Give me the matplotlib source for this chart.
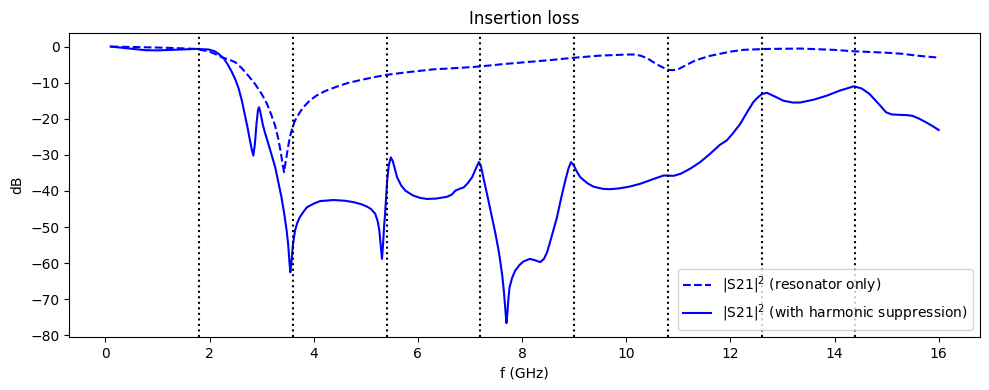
import numpy as np
import matplotlib
matplotlib.use("Agg")
import matplotlib.pyplot as plt

# harmonics of the 1.8 GHz fundamental
harmoniques = [1.8, 3.6, 5.4, 7.2, 9.0, 10.8, 12.6, 14.4]

# |S21|^2 resonator only (GHz, dB)
f_reso = [0.1, 0.5, 1.09, 1.5, 1.72, 1.98, 2.1, 2.24, 2.37, 2.49, 2.62, 2.74,
          2.87, 3.0, 3.1, 3.19, 3.26, 3.32, 3.37, 3.40, 3.43, 3.46, 3.50, 3.54,
          3.59, 3.64, 3.72, 3.80, 3.92, 4.05, 4.22, 4.44, 4.65, 4.89, 5.15, 5.41,
          5.8, 6.3, 6.8, 7.2, 7.6, 8.0, 8.5, 8.99, 9.5, 10.01, 10.15, 10.27,
          10.40, 10.52, 10.65, 10.78, 10.84, 10.97, 11.1, 11.29, 11.42, 11.6,
          11.8, 12.0, 12.25, 12.7, 13.34, 13.98, 14.37, 15.0, 15.3, 15.58, 15.8,
          15.96]
db_reso = [0.0, -0.1, -0.3, -0.5, -0.65, -1.3, -2.0, -3.0, -3.6, -4.3, -6.0, -8.0,
           -10.3, -13.1, -15.8, -19.1, -22.0, -25.6, -29.5, -32.5, -34.8, -32.0,
           -28.5, -25.1, -22.5, -20.5, -18.5, -16.8, -15.0, -13.6, -12.3, -11.1,
           -10.1, -9.3, -8.5, -7.8, -7.1, -6.3, -5.9, -5.5, -4.9, -4.4, -3.8, -3.1,
           -2.5, -2.2, -2.2, -2.5, -3.2, -4.3, -5.4, -6.3, -6.5, -6.5, -5.5, -4.1,
           -3.4, -2.6, -2.0, -1.4, -0.9, -0.65, -0.55, -0.9, -1.3, -1.7, -2.0,
           -2.5, -2.8, -3.0]

# |S21|^2 with harmonic suppression (GHz, dB)
f_supp = [0.1, 0.3, 0.5, 0.77, 1.0, 1.3, 1.72, 1.98, 2.1, 2.17, 2.27, 2.35, 2.43,
          2.50, 2.56, 2.62, 2.68, 2.73, 2.77, 2.81, 2.84, 2.87, 2.90, 2.93, 2.95,
          2.98, 3.02, 3.06, 3.12, 3.19, 3.26, 3.32, 3.38, 3.43, 3.48, 3.51, 3.53,
          3.55, 3.57, 3.60, 3.64, 3.68, 3.73, 3.80, 3.87, 4.0, 4.12, 4.38, 4.6,
          4.77, 4.92, 5.02, 5.10, 5.18, 5.23, 5.26, 5.29, 5.31, 5.33, 5.35, 5.37,
          5.39, 5.41, 5.44, 5.48, 5.52, 5.56, 5.60, 5.68, 5.76, 5.9, 6.04, 6.17,
          6.35, 6.56, 6.65, 6.72, 6.80, 6.88, 6.96, 7.04, 7.10, 7.17, 7.21, 7.26,
          7.33, 7.41, 7.49, 7.55, 7.58, 7.62, 7.65, 7.68, 7.70, 7.72, 7.74, 7.76,
          7.81, 7.87, 7.95, 8.03, 8.15, 8.25, 8.35, 8.42, 8.48, 8.57, 8.67, 8.75,
          8.83, 8.89, 8.94, 8.99, 9.05, 9.12, 9.25, 9.37, 9.55, 9.69, 9.85, 10.06,
          10.27, 10.5, 10.72, 10.91, 11.05, 11.23, 11.42, 11.61, 11.8, 11.93,
          12.05, 12.19, 12.32, 12.44, 12.51, 12.6, 12.7, 12.85, 13.02, 13.2,
          13.34, 13.6, 13.85, 14.1, 14.37, 14.52, 14.67, 14.83, 14.99, 15.1,
          15.24, 15.4, 15.5, 15.63, 15.76, 15.88, 16.0]
db_supp = [0.0, -0.3, -0.6, -1.0, -1.05, -0.9, -0.65, -0.8, -1.3, -2.0, -3.2, -5.0,
           -7.1, -9.3, -11.7, -15.0, -19.1, -22.5, -25.6, -28.5, -30.2, -27.0,
           -21.5, -17.5, -16.8, -18.5, -21.5, -23.7, -26.5, -30.0, -33.4, -37.5,
           -41.7, -46.0, -51.0, -55.0, -59.0, -62.5, -60.0, -55.0, -51.0, -49.0,
           -47.3, -45.8, -44.5, -43.5, -42.8, -42.5, -42.7, -43.1, -43.7, -44.3,
           -45.0, -46.3, -48.5, -51.0, -55.5, -58.8, -55.0, -50.0, -46.3, -41.5,
           -37.1, -33.0, -30.7, -31.8, -34.0, -36.2, -38.5, -39.9, -41.2, -41.9,
           -42.2, -42.1, -41.6, -41.0, -39.9, -39.4, -39.0, -37.8, -36.2, -34.2,
           -32.0, -33.0, -36.5, -41.0, -46.5, -51.9, -56.5, -59.3, -63.5, -67.6,
           -73.0, -76.6, -73.5, -69.5, -66.7, -64.0, -62.0, -60.5, -59.5, -58.8,
           -59.2, -59.7, -58.8, -57.0, -52.5, -47.3, -42.0, -37.1, -33.8, -32.0,
           -32.8, -34.6, -36.2, -37.8, -38.8, -39.4, -39.5, -39.3, -38.8, -38.0,
           -36.8, -35.7, -35.8, -35.2, -33.8, -32.0, -29.7, -27.2, -26.0, -24.0,
           -21.4, -18.2, -15.4, -14.3, -13.2, -12.8, -13.8, -15.0, -15.5, -15.5,
           -14.7, -13.6, -12.2, -11.0, -11.6, -13.1, -15.6, -18.2, -18.8, -18.9,
           -19.0, -19.2, -20.0, -21.0, -22.0, -23.1]

fig, ax = plt.subplots(figsize=(9.89, 3.9), dpi=100)

ax.plot(f_reso, db_reso, "b--", lw=1.5, label="|S21|$^2$ (resonator only)")
ax.plot(f_supp, db_supp, "b-", lw=1.5, label="|S21|$^2$ (with harmonic suppression)")
for fh in harmoniques:
    ax.axvline(fh, color="k", linestyle=":", lw=1.5)

ax.set_title("Insertion loss")
ax.set_xlabel("f (GHz)")
ax.set_ylabel("dB")
ax.legend(loc="lower right")

fig.subplots_adjust(left=0.070, right=0.991, top=0.916, bottom=0.136)
fig.savefig("out.png")
